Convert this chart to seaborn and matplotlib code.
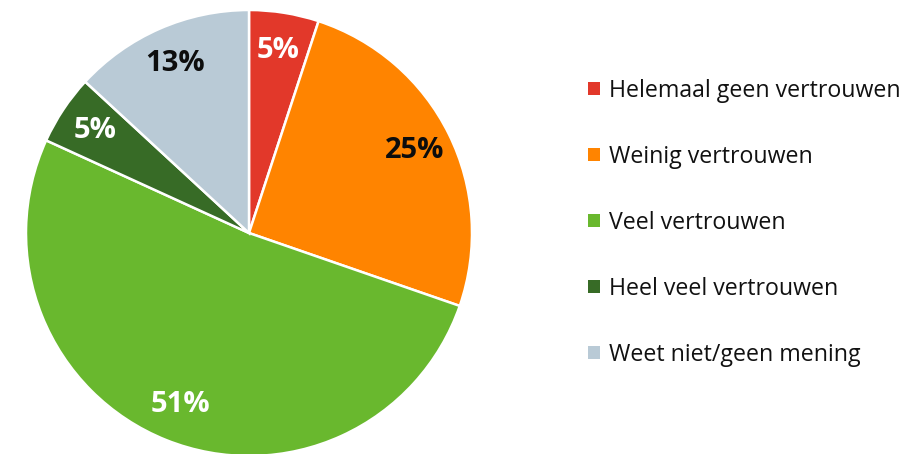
import matplotlib
matplotlib.use("Agg")
import matplotlib.pyplot as plt
import seaborn as sns
from matplotlib.patches import Patch

categories = ["Helemaal geen vertrouwen", "Weinig vertrouwen", "Veel vertrouwen",
              "Heel veel vertrouwen", "Weet niet/geen mening"]
values = [5, 25, 51, 5, 13]
colors = ["#E2382A", "#FF8400", "#69B82E", "#376B26", "#B9CAD6"]
label_colors = ["white", "#0d0d0d", "white", "white", "#0d0d0d"]

sns.set_theme(style="white")
plt.rcParams['font.family'] = ['Open Sans', 'DejaVu Sans']

W, H = 917, 454
fig = plt.figure(figsize=(W / 100, H / 100), dpi=100)
cx, cy, r = 249, 233, 223
ax = fig.add_axes([(cx - r) / W, (H - cy - r) / H, 2 * r / W, 2 * r / H])

wedges, texts, autotexts = ax.pie(
    values, colors=colors, startangle=90, counterclock=False,
    autopct=lambda p: f"{p * sum(values) / 100:.0f}%", pctdistance=0.83,
    wedgeprops=dict(edgecolor="white", linewidth=1.8),
    textprops=dict(fontsize=21, fontweight="bold"))
for t, c in zip(autotexts, label_colors):
    t.set_color(c)
ax.set_xlim(-1, 1)
ax.set_ylim(-1, 1)
ax.set_aspect("auto")
ax.axis("off")

handles = [Patch(facecolor=c, edgecolor="none") for c in colors]
fig.legend(handles, categories, loc="upper left",
           bbox_to_anchor=(588 / W, 1 - 79 / H), frameon=False,
           fontsize=16.7, handlelength=0.5, handleheight=0.5,
           handletextpad=0.4, labelspacing=1.81, borderpad=0, borderaxespad=0,
           labelcolor="#111111")

fig.savefig("out.png", dpi=100)
